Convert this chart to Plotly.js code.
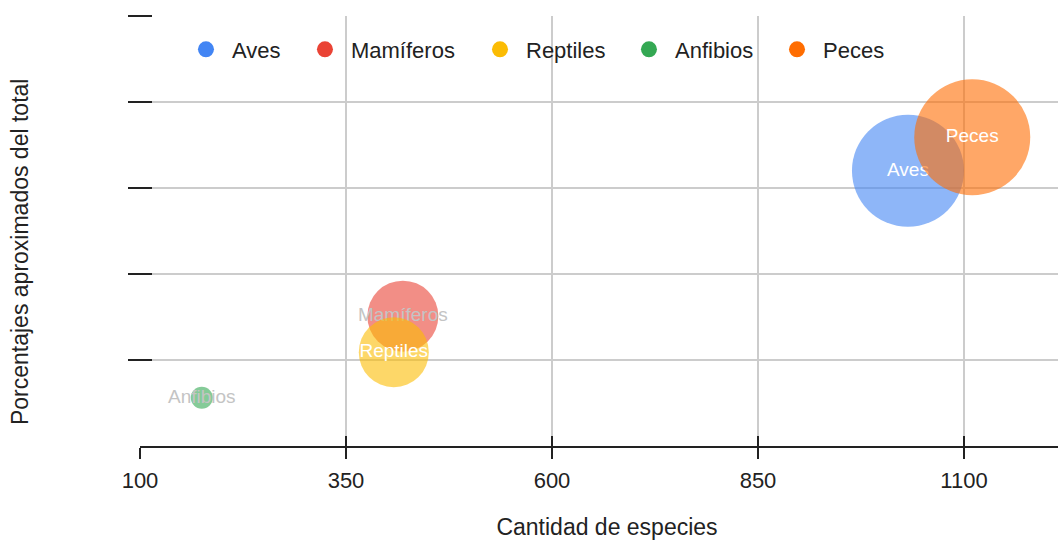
<!DOCTYPE html>
<html>
<head>
<meta charset="utf-8">
<script src="https://cdn.plot.ly/plotly-3.0.1.min.js"></script>
<style>
html,body{margin:0;padding:0;background:#fff;overflow:hidden;width:1058px;height:540px;}
#chart{width:1076px;height:540px;}
</style>
</head>
<body>
<div id="chart"></div>
<script>
// Data
const especies = ["Aves", "Mamíferos", "Reptiles", "Anfibios", "Peces"];
const cantidad = [1032, 419, 408, 175, 1110];
const porcentaje = [32.0, 15.1, 10.9, 5.6, 35.9];
const tamano = [56, 35.5, 35, 11, 58];
const colores = ["#4285F4", "#EA4335", "#FBBC04", "#34A853", "#FF6D01"];
const colorTexto = ["#ffffff", "#c4c4c4", "#ffffff", "#c4c4c4", "#ffffff"];
const xTicks = [100, 350, 600, 850, 1100];
const yTicks = [0, 10, 20, 30, 40, 50];

const FONT = "Arial, 'Liberation Sans', sans-serif";
const legendX = [0.0428, 0.1702, 0.3576, 0.5171, 0.6756];
const legendIds = ["legend", "legend2", "legend3", "legend4", "legend5"];

const traces = [];
especies.forEach((nombre, i) => {
  traces.push({
    type: "scatter",
    mode: "markers+text",
    name: nombre,
    x: [cantidad[i]],
    y: [porcentaje[i]],
    text: [nombre],
    textposition: "middle center",
    textfont: {family: FONT, size: 19, color: colorTexto[i]},
    marker: {size: [tamano[i]], sizemode: "diameter", sizeref: 0.5,
             color: colores[i], opacity: 0.6, line: {width: 0}},
    showlegend: false,
    hoverinfo: "x+y+text",
    cliponaxis: false
  });
});
especies.forEach((nombre, i) => {
  traces.push({
    type: "scatter",
    mode: "markers",
    name: nombre,
    x: [null],
    y: [null],
    marker: {size: 16, color: colores[i], line: {width: 0}},
    showlegend: true,
    legend: legendIds[i]
  });
});

const xRange = [100, 1233.5];
const yRange = [0, 50];
const layout = {
  width: 1076,
  height: 540,
  margin: {l: 140, r: 2, t: 16, b: 94},
  paper_bgcolor: "#ffffff",
  plot_bgcolor: "#ffffff",
  font: {family: FONT, size: 22, color: "#222222"},
  showlegend: true,
  xaxis: {
    domain: [0, 1],
    range: xRange,
    tickvals: xTicks,
    ticktext: xTicks.map(String),
    ticks: "outside", ticklen: 11, tickwidth: 2, tickcolor: "#222222",
    ticklabelstandoff: 3,
    showline: true, linecolor: "#222222", linewidth: 2,
    showgrid: true, gridcolor: "#cccccc", gridwidth: 2,
    zeroline: false,
    tickfont: {family: FONT, size: 22, color: "#222222"},
    title: {text: "Cantidad de especies", standoff: 37,
            font: {family: FONT, size: 23, color: "#222222"}}
  },
  xaxis2: {
    overlaying: "x", anchor: "y", side: "bottom",
    range: xRange, tickvals: xTicks,
    ticks: "inside", ticklen: 10, tickwidth: 2, tickcolor: "#222222",
    showticklabels: false, showgrid: false, zeroline: false, showline: false
  },
  yaxis: {
    range: yRange,
    tickvals: yTicks.slice(1),
    anchor: "free", position: 12 / 934,
    ticks: "outside", ticklen: 24, tickwidth: 2, tickcolor: "#222222",
    showticklabels: false,
    showline: false,
    showgrid: true, gridcolor: "#cccccc", gridwidth: 2,
    zeroline: false
  },
  annotations: [{
    text: "Porcentajes aproximados del total",
    xref: "paper", yref: "paper",
    x: -0.1285, y: 0.451,
    xanchor: "center", yanchor: "middle",
    textangle: -90, showarrow: false,
    font: {family: FONT, size: 23, color: "#222222"}
  }]
};
legendIds.forEach((id, i) => {
  layout[id] = {
    orientation: "h",
    x: legendX[i], xanchor: "left",
    y: 0.922, yanchor: "middle",
    font: {family: FONT, size: 22, color: "#222222"},
    itemwidth: 42,
    bgcolor: "rgba(0,0,0,0)"
  };
});
// empty trace to activate overlay x axis
traces.push({type: "scatter", x: [null], y: [null], xaxis: "x2", yaxis: "y", showlegend: false, hoverinfo: "skip"});

Plotly.newPlot("chart", traces, layout, {displayModeBar: false, staticPlot: true});
</script>
</body>
</html>
